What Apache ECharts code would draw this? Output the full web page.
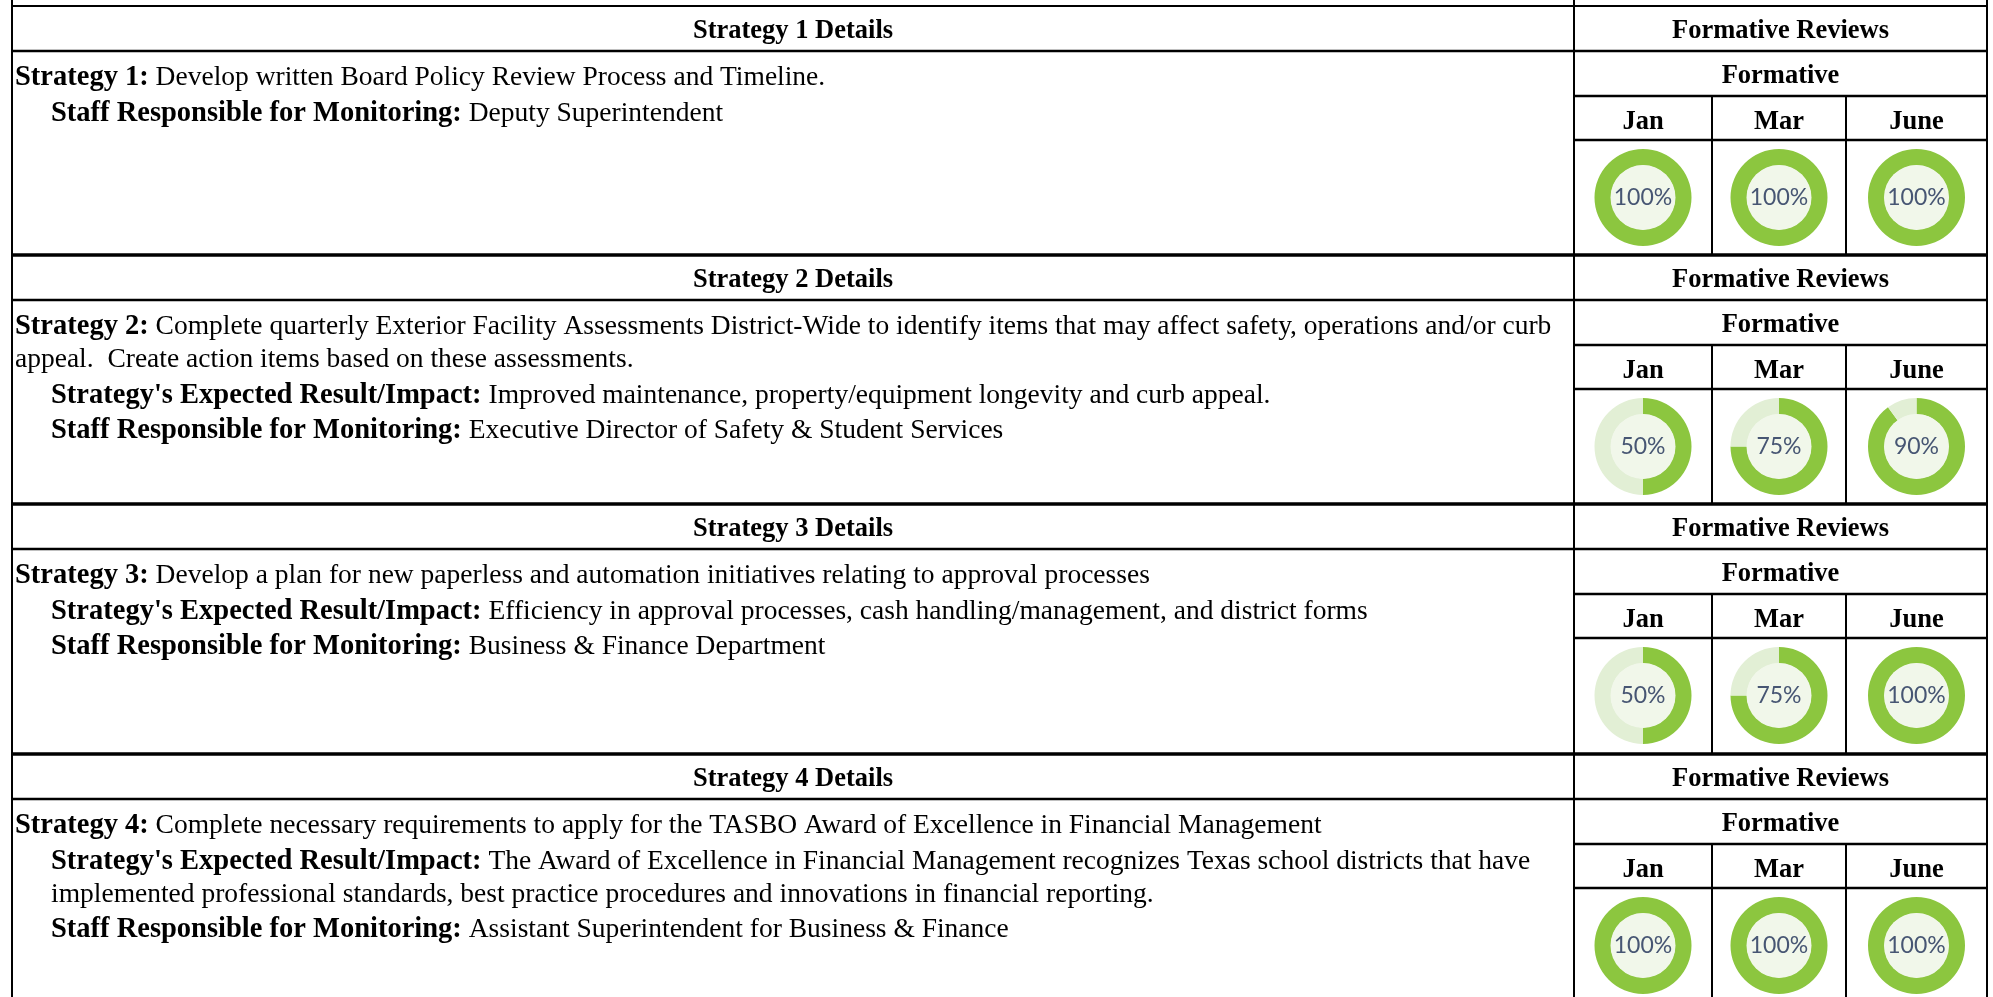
<!DOCTYPE html>
<html><head><meta charset="utf-8">
<script src="https://cdn.jsdelivr.net/npm/echarts@6/dist/echarts.min.js"></script>
<style>html,body{margin:0;padding:0;background:#fff}#c{width:1993px;height:997px}</style>
</head><body><div id="c"></div>
<script>
// ---------- data ----------
const months = ['Jan', 'Mar', 'June'];
const sectionTitles = ['Strategy 1 Details', 'Strategy 2 Details', 'Strategy 3 Details', 'Strategy 4 Details'];
const reviewTitle = 'Formative Reviews';
const formativeTitle = 'Formative';
const janValues = [100, 50, 50, 100];
const marValues = [100, 75, 75, 100];
const juneValues = [100, 90, 100, 100];
// line kinds: lead = first paragraph, wrap = continuation of lead, sub = indented paragraph, subwrap = continuation of sub
const strategy1Lines = [
  {kind: 'lead', bold: 'Strategy 1:', text: ' Develop written Board Policy Review Process and Timeline.'},
  {kind: 'sub', bold: 'Staff Responsible for Monitoring:', text: ' Deputy Superintendent'}
];
const strategy2Lines = [
  {kind: 'lead', bold: 'Strategy 2:', text: ' Complete quarterly Exterior Facility Assessments District-Wide to identify items that may affect safety, operations and/or curb'},
  {kind: 'wrap', bold: '', text: 'appeal.  Create action items based on these assessments.'},
  {kind: 'sub', bold: "Strategy's Expected Result/Impact:", text: ' Improved maintenance, property/equipment longevity and curb appeal.'},
  {kind: 'sub', bold: 'Staff Responsible for Monitoring:', text: ' Executive Director of Safety & Student Services'}
];
const strategy3Lines = [
  {kind: 'lead', bold: 'Strategy 3:', text: ' Develop a plan for new paperless and automation initiatives relating to approval processes'},
  {kind: 'sub', bold: "Strategy's Expected Result/Impact:", text: ' Efficiency in approval processes, cash handling/management, and district forms'},
  {kind: 'sub', bold: 'Staff Responsible for Monitoring:', text: ' Business & Finance Department'}
];
const strategy4Lines = [
  {kind: 'lead', bold: 'Strategy 4:', text: ' Complete necessary requirements to apply for the TASBO Award of Excellence in Financial Management'},
  {kind: 'sub', bold: "Strategy's Expected Result/Impact:", text: ' The Award of Excellence in Financial Management recognizes Texas school districts that have'},
  {kind: 'subwrap', bold: '', text: 'implemented professional standards, best practice procedures and innovations in financial reporting.'},
  {kind: 'sub', bold: 'Staff Responsible for Monitoring:', text: ' Assistant Superintendent for Business & Finance'}
];
const allLines = [strategy1Lines, strategy2Lines, strategy3Lines, strategy4Lines];
const monthValues = [janValues, marValues, juneValues];

// ---------- layout ----------
const L = 12, DIV = 1574, R = 1987;
const colX = [1574, 1712, 1846, 1987];
const sectionTops = [6, 255, 504, 754];
const SECTION_H = 249;
const HDR = 45, FORM = 90, MON = 134;
const serif = '"Liberation Serif", "Times New Roman", serif';
const FS_H = 26.5, FS_B = 28.5, FS_N = 27.5;
const FILL = '#8cc63f', TRACK = '#e2efd5', INNER = '#f1f7ea';

const graphics = [];
function hline(x1, x2, y, w) {
  graphics.push({type: 'line', silent: true, shape: {x1, y1: y, x2, y2: y}, style: {stroke: '#000', lineWidth: w}});
}
function vline(x, y1, y2, w) {
  graphics.push({type: 'line', silent: true, shape: {x1: x, y1, x2: x, y2}, style: {stroke: '#000', lineWidth: w}});
}
function ctext(x, y, t) {
  graphics.push({type: 'text', silent: true, x, y, style: {text: t, fontFamily: serif, fontSize: FS_H, fontWeight: 'bold', fill: '#000', align: 'center', verticalAlign: 'middle'}});
}

// outer borders
vline(L, 0, 997, 2);
vline(R, 0, 997, 2);
vline(DIV, 0, 997, 2);
hline(L, R, sectionTops[0], 2);

const series = [];
sectionTops.forEach((top, s) => {
  if (s > 0) hline(L, R, top, 3.5);
  hline(L, R, top + HDR, 2.5);
  hline(DIV, R, top + FORM, 2.5);
  hline(DIV, R, top + MON, 2.5);
  vline(colX[1], top + FORM, top + SECTION_H, 2);
  vline(colX[2], top + FORM, top + SECTION_H, 2);
  ctext((L + DIV) / 2, top + HDR / 2 + 3, sectionTitles[s]);
  ctext((DIV + R) / 2, top + HDR / 2 + 3, reviewTitle);
  ctext((DIV + R) / 2, top + (HDR + FORM) / 2 + 3, formativeTitle);
  months.forEach((m, i) => ctext((colX[i] + colX[i + 1]) / 2, top + (FORM + MON) / 2 + 4, m));

  // body text
  let y = top + HDR + 27;
  allLines[s].forEach((ln, k) => {
    if (k > 0) y += (ln.kind === 'wrap' || ln.kind === 'subwrap') ? 33 : 35.5;
    const x = (ln.kind === 'lead' || ln.kind === 'wrap') ? 15 : 51;
    const txt = (ln.bold ? '{b|' + ln.bold + '}' : '') + '{n|' + ln.text + '}';
    graphics.push({type: 'text', silent: true, x, y, style: {
      text: txt, verticalAlign: 'middle', align: 'left',
      rich: {
        b: {fontFamily: serif, fontSize: FS_B, fontWeight: 'bold', fill: '#000'},
        n: {fontFamily: serif, fontSize: FS_N, fill: '#000'}
      }
    }});
  });

  // donuts
  const cy = top + (MON + SECTION_H) / 2;
  months.forEach((m, i) => {
    const v = monthValues[i][s];
    const cx = (colX[i] + colX[i + 1]) / 2;
    series.push({
      type: 'pie', center: [cx, cy], radius: [32, 48.5], startAngle: 90, clockwise: true,
      silent: true, animation: false, label: {show: false}, labelLine: {show: false},
      emphasis: {disabled: true}, itemStyle: {borderWidth: 0},
      data: [{value: v, name: m + ' done', itemStyle: {color: FILL}}, {value: 100 - v, name: m + ' left', itemStyle: {color: TRACK}}]
    });
    series.push({
      type: 'pie', center: [cx, cy], radius: [0, 32.5], silent: true, animation: false,
      emphasis: {disabled: true}, itemStyle: {color: INNER, borderWidth: 0}, labelLine: {show: false},
      label: {show: true, position: 'center', formatter: v + '%', fontFamily: 'Lato, "Open Sans", sans-serif', fontSize: 23, color: '#475673'},
      data: [{value: v, name: m}]
    });
  });
});

const chart = echarts.init(document.getElementById('c'), null, {renderer: 'canvas'});
chart.setOption({animation: false, backgroundColor: '#fff', series, graphic: {elements: graphics}});
</script></body></html>
